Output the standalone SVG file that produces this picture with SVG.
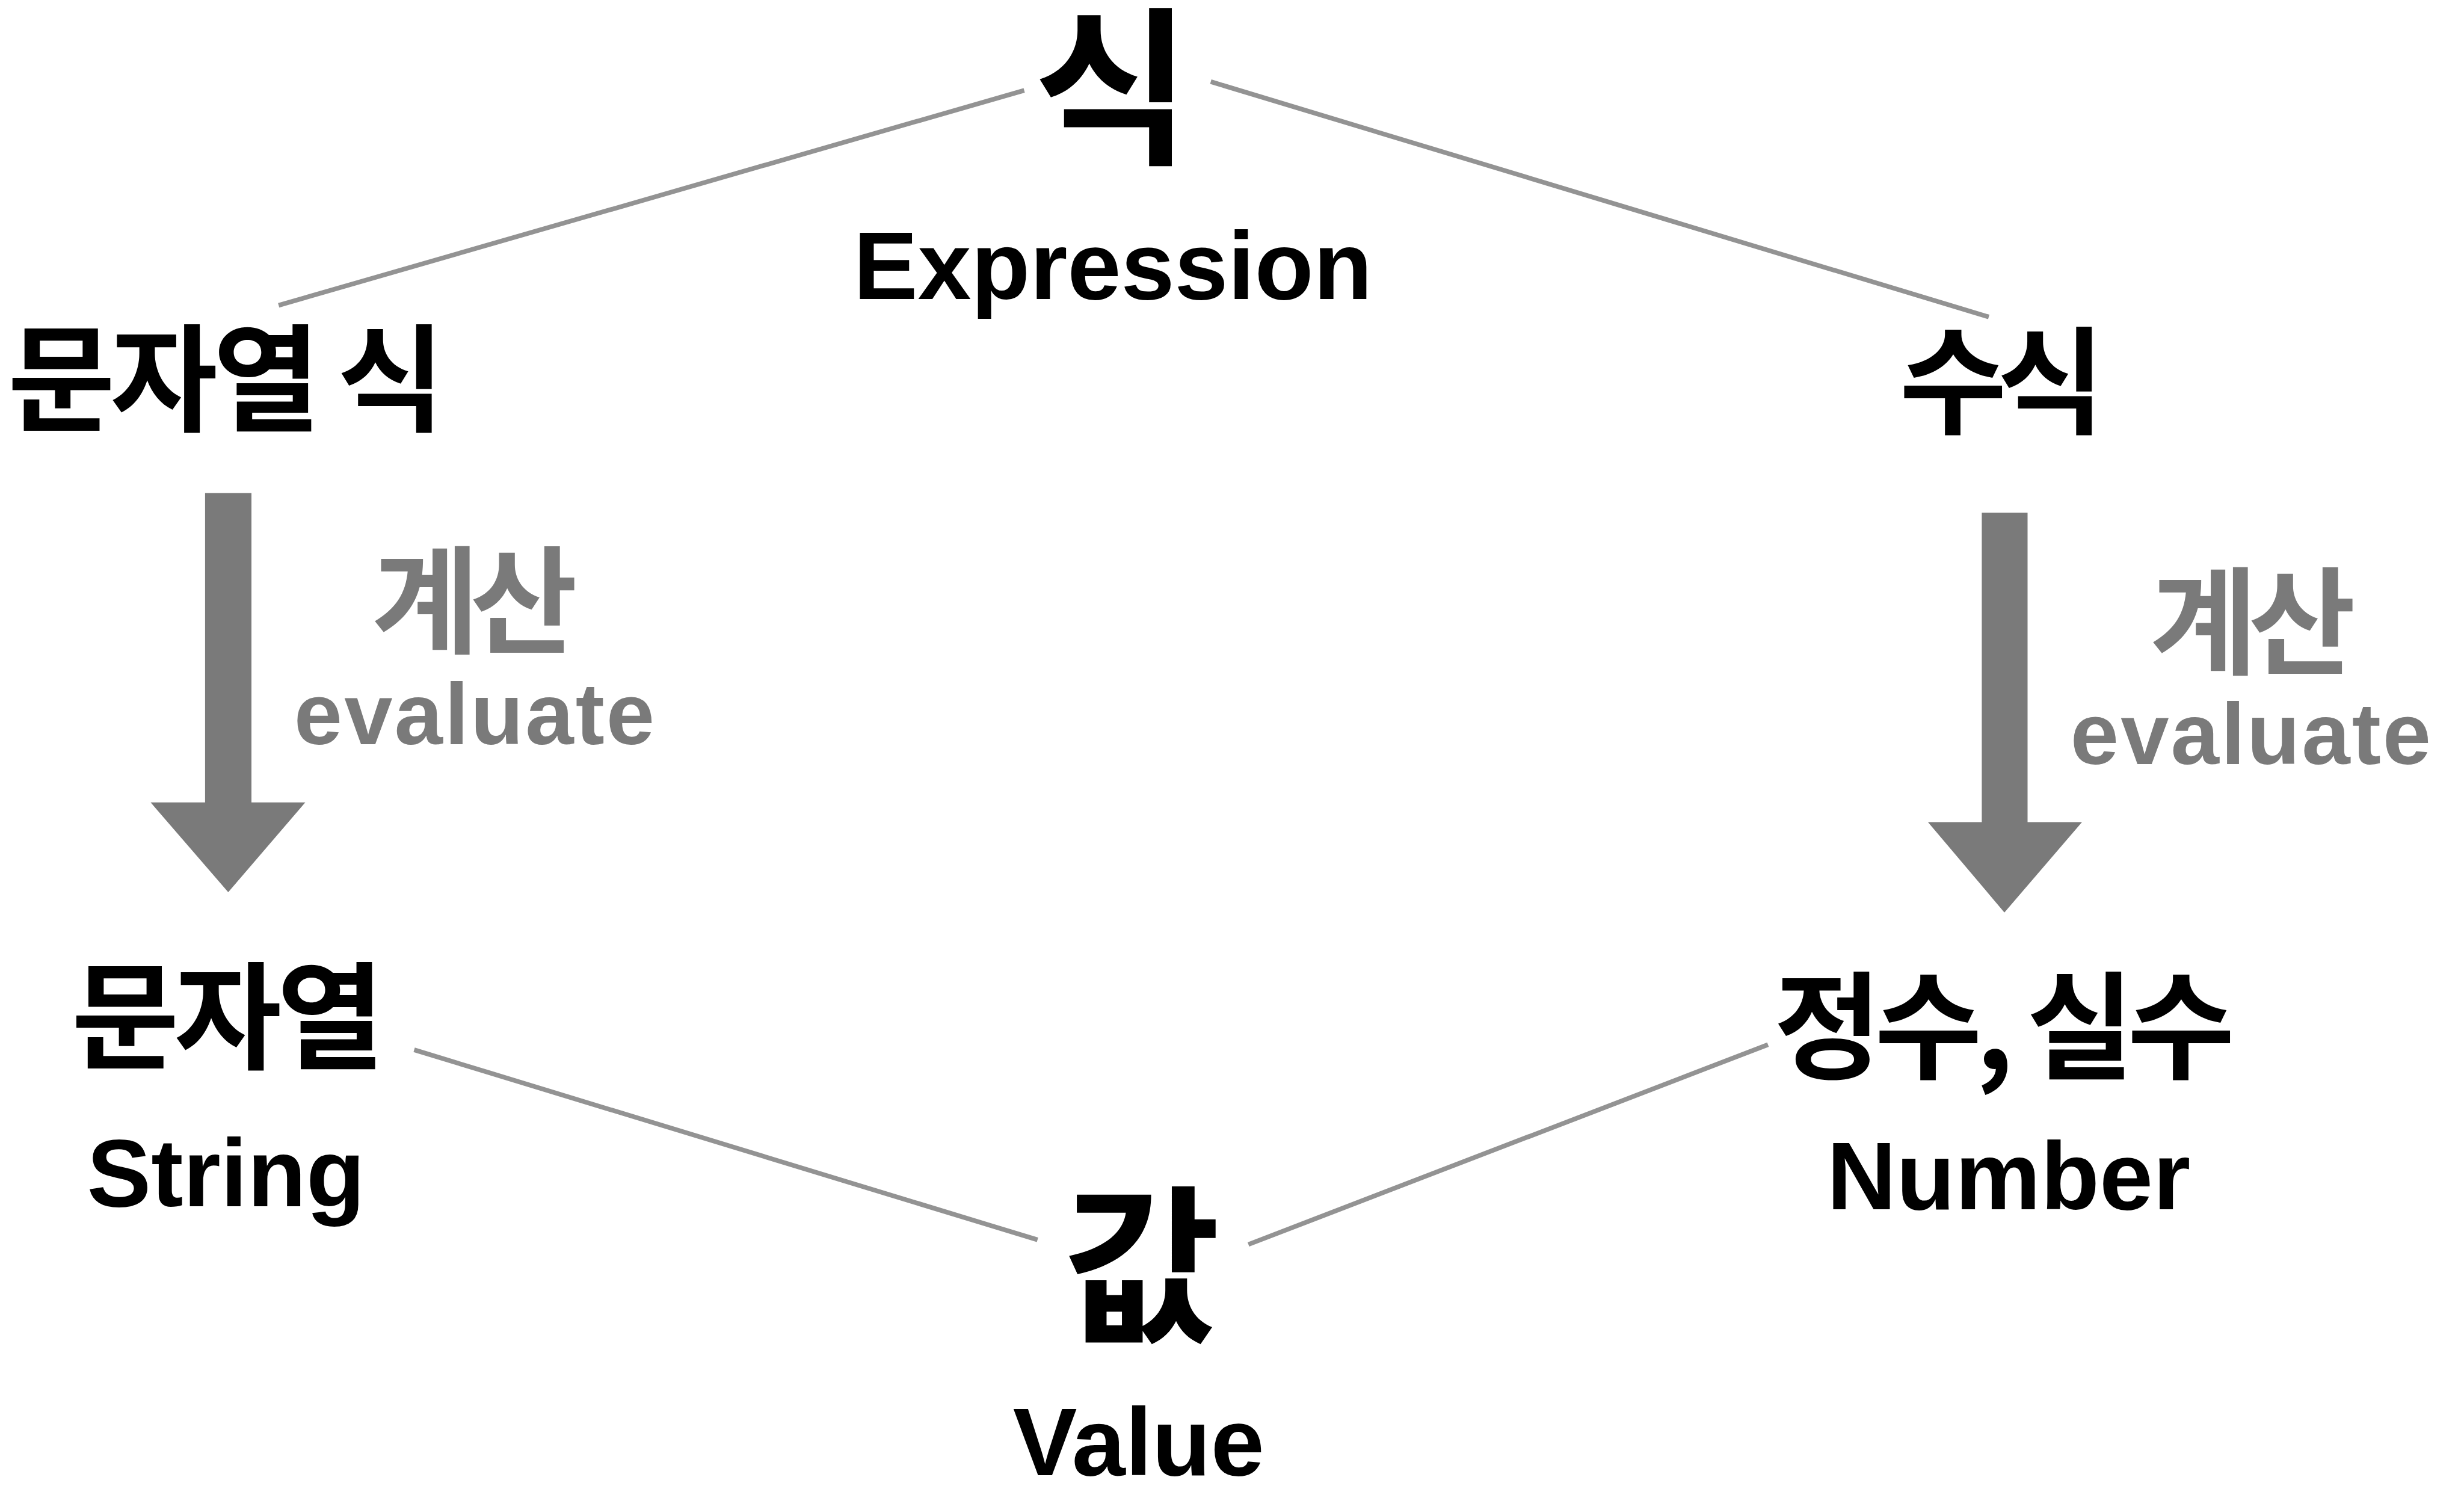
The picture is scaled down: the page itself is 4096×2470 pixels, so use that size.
<svg xmlns="http://www.w3.org/2000/svg" width="4096" height="2470" viewBox="0 0 4096 2470">
<style>
.ko{font-family:"Noto Sans CJK KR","Noto Sans CJK SC",sans-serif;font-weight:700;text-anchor:middle}
.ko-s{font-size:194px}
.ko-l{font-size:284px}
.en{font-family:"Liberation Sans",Arial,sans-serif;font-weight:700;text-anchor:middle}
.en-l{font-size:160px}
.en-s{font-size:144.5px;letter-spacing:3px}
.black{fill:#000}
.grey{fill:#7a7a7a}
.link{stroke:#939393;stroke-width:7.7;fill:none}
.arrow{fill:#7a7a7a}
</style>
<rect width="4096" height="2470" fill="#fff"/>
<g id="connectors">
<line class="link" x1="463.2" y1="507.5" x2="1702.6" y2="150.2"/>
<line class="link" x1="2012.7" y1="135.8" x2="3306" y2="526.8"/>
<line class="link" x1="688.5" y1="1745" x2="1724.7" y2="2060.8"/>
<line class="link" x1="2075.3" y1="2068.5" x2="2939" y2="1736.3"/>
<polygon class="arrow" points="340.9,819.5 418,819.5 418,1333.8 507.5,1333.8 379.4,1483 250.4,1333.8 340.9,1333.8"/>
<polygon class="arrow" points="3294.4,852.3 3370.5,852.3 3370.5,1366.5 3461,1366.5 3332,1516.7 3204.9,1366.5 3294.4,1366.5"/>
<g id="label-evaluate-left">
<text class="ko ko-s grey" x="781.5" y="1071" letter-spacing="-15">계산</text>
<text class="en en-s grey" x="790" y="1236.5">evaluate</text>
</g>
<g id="label-evaluate-right">
<text class="ko ko-s grey" x="3737.5" y="1106" letter-spacing="-15">계산</text>
<text class="en en-s grey" x="3743" y="1270.2">evaluate</text>
</g>
</g>
<g id="node-expression">
<text class="ko ko-l black" x="1848.6" y="251">식</text>
<text class="en en-l black" x="1850" y="497.3">Expression</text>
</g>
<g id="node-string-expression">
<text class="ko ko-s black" x="372" y="702" letter-spacing="-8">문자열 식</text>
</g>
<g id="node-numeric-expression">
<text class="ko ko-s black" x="3320" y="706" letter-spacing="-16">수식</text>
</g>
<g id="node-string">
<text class="ko ko-s black" x="375" y="1762" letter-spacing="-8">문자열</text>
<text class="en en-l black" x="375.6" y="2005">String</text>
</g>
<g id="node-number">
<text class="ko ko-s black" x="3326.5" y="1778" letter-spacing="-11">정수, 실수</text>
<text class="en en-l black" x="3339" y="2009.8">Number</text>
</g>
<g id="node-value">
<text class="ko ko-l black" x="1898" y="2210">값</text>
<text class="en en-l black" x="1892.8" y="2451.8">Value</text>
</g>
</svg>
